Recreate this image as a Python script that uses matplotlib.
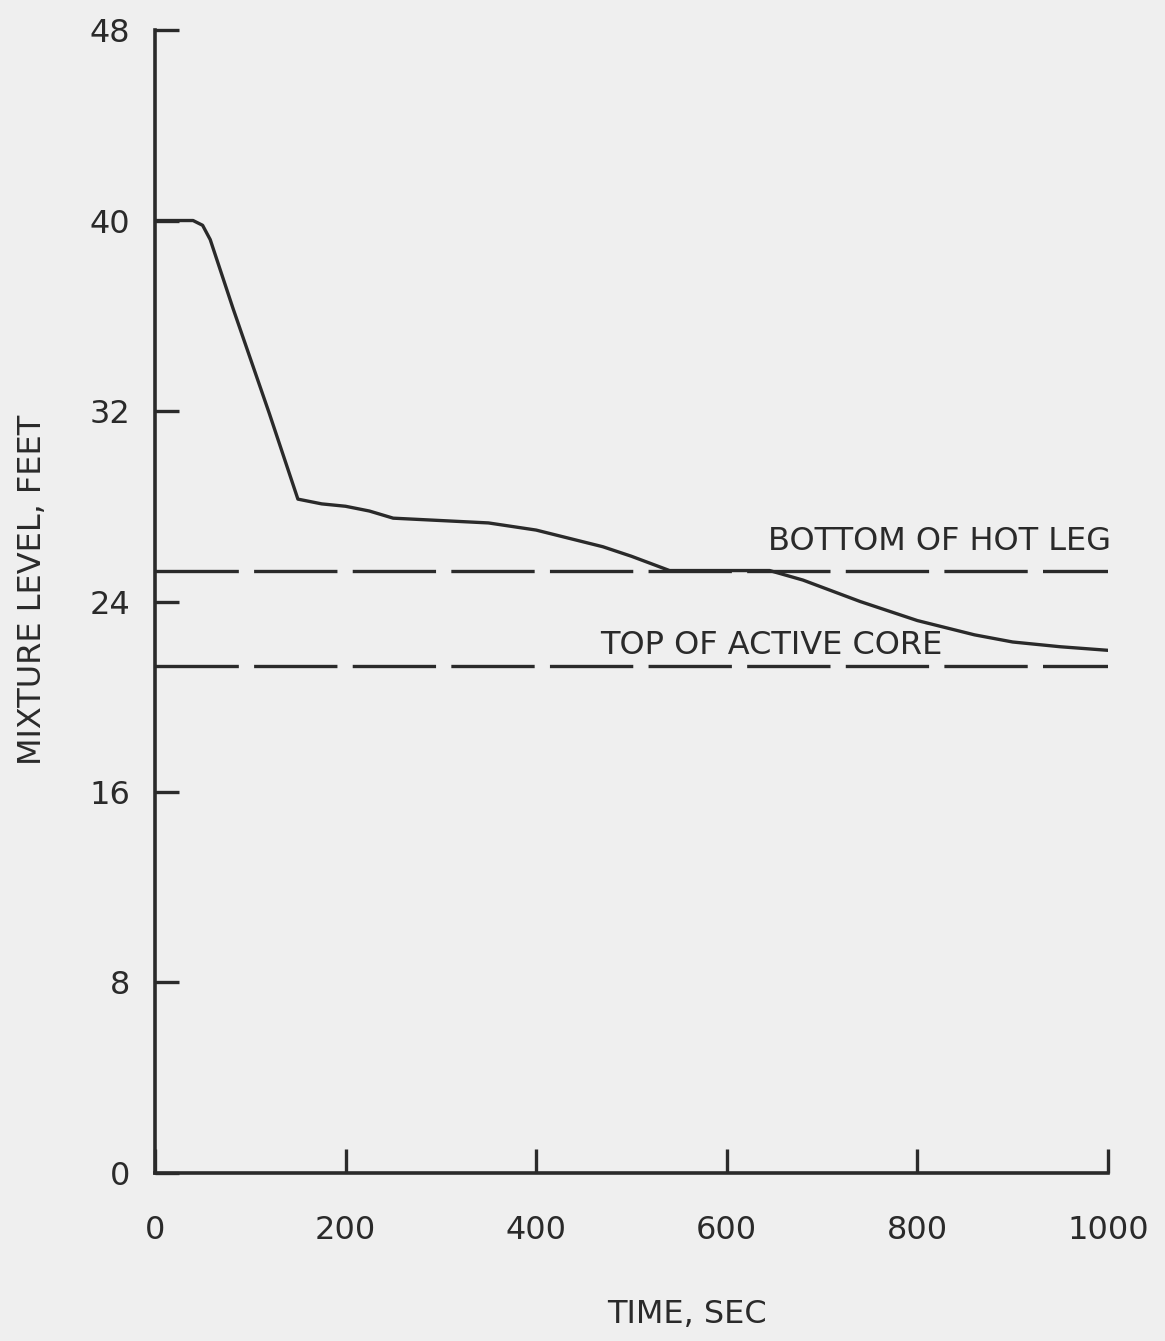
import matplotlib.pyplot as plt
import numpy as np

# datos
tiempo = [0, 20, 40, 50, 58, 82, 120, 150, 175, 200, 225, 250, 300, 350, 400,
          440, 470, 500, 520, 540, 580, 620, 645, 680, 740, 800, 860, 900, 950, 1000]
nivel = [40.0, 40.0, 40.0, 39.8, 39.2, 36.3, 31.9, 28.3, 28.1, 28.0, 27.8, 27.5,
         27.4, 27.3, 27.0, 26.6, 26.3, 25.9, 25.6, 25.3, 25.3, 25.3, 25.3, 24.9,
         24.0, 23.2, 22.6, 22.3, 22.1, 21.95]

nivel_hot_leg = 25.3
nivel_core = 21.3

x_ticks = [0, 200, 400, 600, 800, 1000]
y_ticks = [0, 8, 16, 24, 32, 40, 48]

FONDO = '#efefef'
TINTA = '#2a2a2a'
FUENTE = ['DejaVu Sans']
TAM = 23

plt.rcParams['font.family'] = FUENTE

fig = plt.figure(figsize=(11.65, 13.41), dpi=100, facecolor=FONDO)
ax = fig.add_axes([0.133, 0.1253, 0.818, 0.8523], facecolor=FONDO)

ax.plot(tiempo, nivel, color=TINTA, lw=2.4, solid_joinstyle='round')

lw_d = 2.4
for nv in (nivel_hot_leg, nivel_core):
    ax.plot([0, 1000], [nv, nv], color=TINTA, lw=lw_d,
            dashes=(60 / lw_d, 11 / lw_d))

ax.text(643, 25.85, 'BOTTOM OF HOT LEG', fontsize=TAM, color=TINTA,
        ha='left', va='bottom')
ax.text(467, 21.5, 'TOP OF ACTIVE CORE', fontsize=TAM, color=TINTA,
        ha='left', va='bottom')

ax.set_xlim(0, 1000)
ax.set_ylim(0, 48)
ax.set_xticks(x_ticks)
ax.set_yticks(y_ticks)
ax.tick_params(direction='in', length=17, width=2.4, colors=TINTA,
               labelsize=TAM)
ax.tick_params(axis='x', pad=30)
ax.tick_params(axis='y', pad=18)

for lado in ('top', 'right'):
    ax.spines[lado].set_visible(False)
for lado in ('left', 'bottom'):
    ax.spines[lado].set_linewidth(2.6)
    ax.spines[lado].set_color(TINTA)

ax.set_xlabel('TIME, SEC', fontsize=TAM, color=TINTA)
ax.set_ylabel('MIXTURE LEVEL, FEET', fontsize=TAM, color=TINTA)
ax.xaxis.set_label_coords(0.558, -0.110)
ax.yaxis.set_label_coords(-0.112, 0.51)

fig.savefig('out.png', dpi=100, facecolor=FONDO)
